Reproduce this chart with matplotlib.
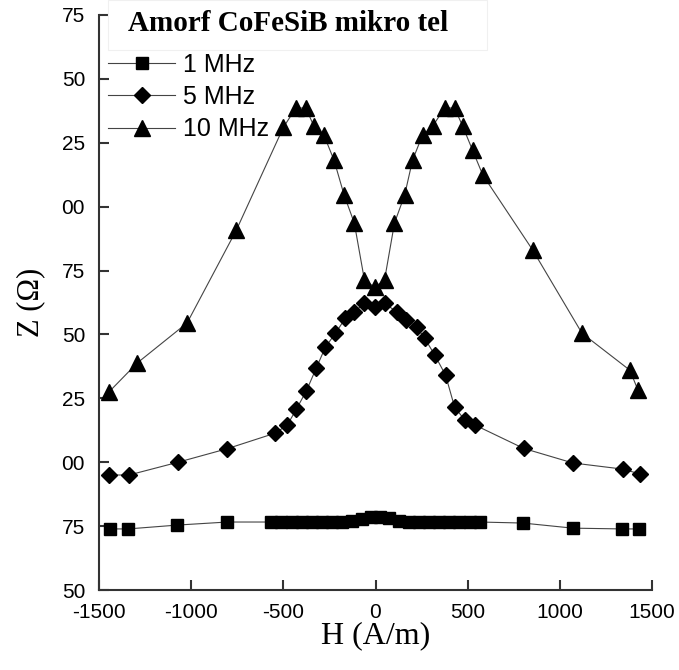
import matplotlib
matplotlib.use("Agg")
import matplotlib.pyplot as plt
from matplotlib.patches import Rectangle

# field H (A/m) and impedance Z (Ohm)
h_1mhz = [-1440, -1342, -1076, -804,
          -565, -510, -455, -400, -345, -290, -235, -180,
          -130, -75, -25, 25, 75, 130,
          180, 235, 290, 345, 400, 455, 510, 565,
          799, 1071, 1337, 1429]
z_1mhz = [73.9, 73.9, 75.4, 76.6,
          76.6, 76.6, 76.6, 76.6, 76.6, 76.6, 76.6, 76.6,
          77.0, 77.8, 78.4, 78.4, 78.0, 77.0,
          76.6, 76.6, 76.6, 76.6, 76.6, 76.6, 76.6, 76.6,
          76.2, 74.2, 73.9, 73.9]

h_5mhz = [-1446, -1337, -1071, -804, -543, -478, -429, -375, -321, -272,
          -217, -163, -114, -60, -5, 49, 114, 168, 223, 266,
          321, 380, 429, 484, 538, 804, 1071, 1342, 1435]
z_5mhz = [95.0, 95.0, 100.0, 105.3, 111.4, 114.6, 120.8, 127.9, 136.9, 145.0,
          150.5, 156.4, 158.8, 162.3, 160.7, 162.3, 158.8, 155.6, 152.9, 148.6,
          142.0, 134.1, 121.6, 116.5, 114.6, 105.4, 99.7, 97.3, 95.4]

h_10mhz = [-1446, -1293, -1022, -755, -500, -432, -378, -334, -280, -225,
           -170, -115, -60, -5, 49, 103, 158, 201, 255, 310,
           375, 429, 473, 527, 582, 853, 1120, 1380, 1424]
z_10mhz = [127.5, 138.8, 154.5, 190.8, 231.0, 238.6, 238.6, 231.5, 228.0, 218.2,
           204.5, 193.6, 171.3, 168.5, 171.3, 193.6, 204.5, 218.2, 228.0, 231.5,
           238.6, 238.6, 231.5, 222.0, 212.4, 183.0, 150.5, 136.0, 128.2]

xticks = [-1500, -1000, -500, 0, 500, 1000, 1500]
yticks = [50, 75, 100, 125, 150, 175, 200, 225, 250, 275]
# the left digit of each label is cut off in the original picture
ytick_labels = ["50", "75", "00", "25", "50", "75", "00", "25", "50", "75"]

sans = ["Liberation Sans", "DejaVu Sans"]
serif = ["Liberation Serif", "DejaVu Serif"]

fig = plt.figure(figsize=(6.79, 6.70), dpi=100)
ax = fig.add_axes([99 / 679, 80 / 670, 553 / 679, 575 / 670])

line_kw = dict(color="#444444", linewidth=0.8, markerfacecolor="black",
               markeredgecolor="black")
ax.plot(h_1mhz, z_1mhz, marker="s", markersize=9, label="1 MHz", **line_kw)
ax.plot(h_5mhz, z_5mhz, marker="D", markersize=8, label="5 MHz", **line_kw)
ax.plot(h_10mhz, z_10mhz, marker="^", markersize=11, label="10 MHz", **line_kw)

ax.set_xlim(-1500, 1500)
ax.set_ylim(50, 275)
ax.set_xticks(xticks)
ax.set_xticklabels([str(t) for t in xticks], family=sans, fontsize=15)
ax.set_yticks(yticks)
ax.set_yticklabels(ytick_labels, family=sans, fontsize=15)
ax.tick_params(direction="in", length=7, width=1.5, color="#333333")
ax.tick_params(axis="y", pad=10)
ax.tick_params(axis="x", pad=9)

for side in ["top", "right"]:
    ax.spines[side].set_visible(False)
for side in ["left", "bottom"]:
    ax.spines[side].set_linewidth(1.5)
    ax.spines[side].set_color("#333333")

ax.set_xlabel("H (A/m)", family=serif, fontsize=23, labelpad=0)
ax.set_ylabel("Z (\u03a9)", family=serif, fontsize=22, labelpad=12)

leg = ax.legend(loc="upper left", bbox_to_anchor=(0.016, 0.934), frameon=False,
                borderpad=0, borderaxespad=0, numpoints=1, handlelength=2.7,
                handletextpad=0.3, labelspacing=0.33,
                prop=dict(family=sans, size=18))

# white label box at the top
fig.patches.append(Rectangle((108 / 679, 1 - 50 / 670), 379 / 679, 50 / 670,
                             transform=fig.transFigure, facecolor="white",
                             edgecolor="#f0f0f0", linewidth=0.8, zorder=5))
fig.text(128 / 679, 1 - 31 / 670, "Amorf CoFeSiB mikro tel", family=serif,
         fontsize=21, fontweight="bold", va="baseline", ha="left", zorder=6)

fig.savefig("out.png", dpi=100)
